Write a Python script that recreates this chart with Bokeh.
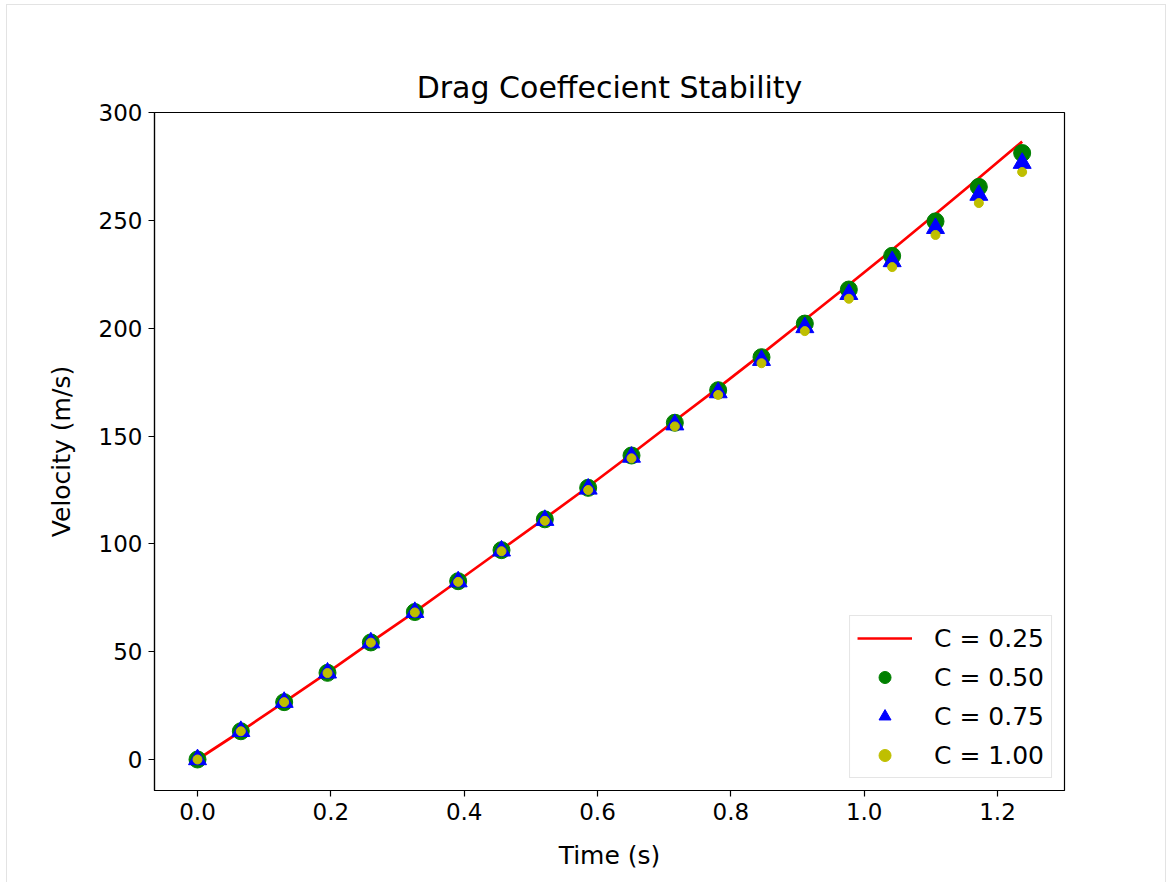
from bokeh.plotting import figure
from bokeh.models import Range1d, FixedTicker, PrintfTickFormatter, Legend, LegendItem
from bokeh.embed import file_html
from bokeh.resources import INLINE

# ---- data ----
time_s = [0.0, 0.065, 0.130, 0.195, 0.260, 0.326, 0.391, 0.456, 0.521, 0.586,
          0.651, 0.716, 0.781, 0.846, 0.911, 0.977, 1.042, 1.107, 1.172, 1.237]
v_c025 = [0.0, 13.1, 26.6, 40.3, 54.4, 68.5, 82.9, 97.4, 111.8, 126.5,
          141.7, 157.1, 172.4, 188.0, 204.0, 220.2, 236.4, 253.0, 269.7, 286.6]
v_c050 = [0.0, 13.1, 26.6, 40.2, 54.3, 68.4, 82.7, 97.1, 111.4, 126.0,
          141.0, 156.2, 171.3, 186.6, 202.2, 218.0, 233.6, 249.6, 265.6, 281.3]
v_c075 = [0.0, 13.1, 26.6, 40.2, 54.2, 68.3, 82.5, 96.8, 111.0, 125.5,
          140.3, 155.3, 170.2, 185.2, 200.4, 215.8, 231.0, 246.4, 261.8, 276.6]
v_c100 = [0.0, 13.1, 26.6, 40.1, 54.2, 68.2, 82.4, 96.6, 110.7, 125.0,
          139.7, 154.5, 169.1, 183.8, 198.7, 213.7, 228.4, 243.3, 258.1, 272.5]
series_labels = ["C = 0.25", "C = 0.50", "C = 0.75", "C = 1.00"]
x_ticks = [0.0, 0.2, 0.4, 0.6, 0.8, 1.0, 1.2]
y_ticks = [0, 50, 100, 150, 200, 250, 300]
title_text = "Drag Coeffecient Stability"
x_label = "Time (s)"
y_label = "Velocity (m/s)"

FONT = "DejaVu Sans"

p = figure(width=1160, height=878, output_backend="svg", toolbar_location=None,
           x_range=Range1d(-0.0645, 1.3005), y_range=Range1d(-14.38, 300.1),
           min_border_left=147, min_border_right=103, min_border_top=107,
           min_border_bottom=93, title=title_text)
p.styles = {"margin-left": "6px", "margin-top": "4px",
            "border-left": "1px solid #e3e3e3", "border-top": "1px solid #e3e3e3",
            "border-right": "1px solid #e3e3e3"}

p.title.align = "center"
p.title.text_font = FONT
p.title.text_font_size = "30px"
p.title.text_font_style = "normal"
p.title.text_color = "#000000"
p.title.standoff = 16

p.xgrid.grid_line_color = None
p.ygrid.grid_line_color = None
p.outline_line_color = "#000000"
p.outline_line_width = 1.2
p.outline_line_alpha = 1.0

for ax in (p.xaxis[0], p.yaxis[0]):
    ax.axis_line_color = "#000000"
    ax.axis_line_width = 1.2
    ax.major_tick_line_color = "#000000"
    ax.major_tick_line_width = 1.2
    ax.major_tick_out = 6
    ax.major_tick_in = 0
    ax.minor_tick_line_color = None
    ax.major_label_text_font = FONT
    ax.major_label_text_font_size = "23px"
    ax.major_label_text_color = "#000000"
    ax.axis_label_text_font = FONT
    ax.axis_label_text_font_size = "25px"
    ax.axis_label_text_font_style = "normal"
    ax.axis_label_text_color = "#000000"
    ax.major_label_standoff = 6

p.xaxis[0].ticker = FixedTicker(ticks=x_ticks)
p.xaxis[0].formatter = PrintfTickFormatter(format="%.1f")
p.yaxis[0].ticker = FixedTicker(ticks=y_ticks)
p.xaxis[0].axis_label = x_label
p.yaxis[0].axis_label = y_label
p.xaxis[0].axis_label_standoff = 18
p.yaxis[0].axis_label_standoff = 20

r0 = p.line(time_s, v_c025, line_color="#ff0000", line_width=2.7)
r1 = p.scatter(time_s, v_c050, marker="circle", size=17, fill_color="#008000",
               line_color="#008000")
r2 = p.scatter(time_s, v_c075, marker="triangle", size=18, fill_color="#0000ff",
               line_color="#0000ff")
r3 = p.scatter(time_s, v_c100, marker="circle", size=9, fill_color="#bfbf00",
               line_color="#bfbf00")

legend = Legend(items=[LegendItem(label=series_labels[0], renderers=[r0]),
                       LegendItem(label=series_labels[1], renderers=[r1]),
                       LegendItem(label=series_labels[2], renderers=[r2]),
                       LegendItem(label=series_labels[3], renderers=[r3])],
                location="bottom_right")
legend.margin = 12
legend.padding = 7
legend.spacing = 9
legend.glyph_width = 55
legend.glyph_height = 30
legend.label_height = 30
legend.label_standoff = 22
legend.label_text_font = FONT
legend.label_text_font_size = "25px"
legend.label_text_color = "#000000"
legend.border_line_color = "#cccccc"
legend.border_line_width = 1
legend.background_fill_color = "#ffffff"
legend.background_fill_alpha = 0.8
p.add_layout(legend)

open("out.html", "w").write(file_html(p, INLINE))
